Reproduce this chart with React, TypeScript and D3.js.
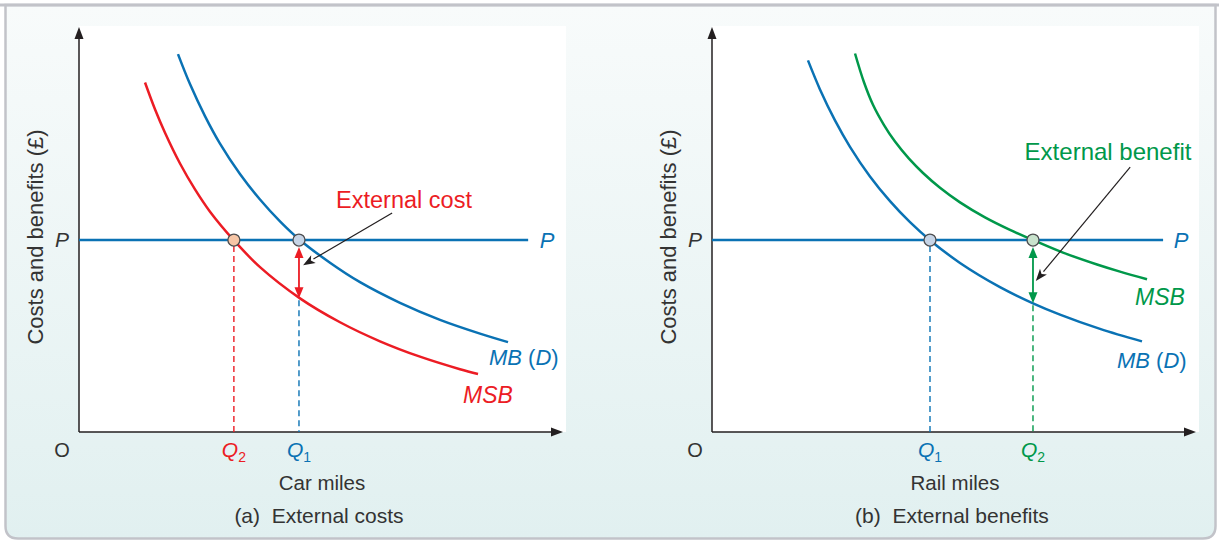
import React from "react";
import * as d3 from "d3";

// ---------- data (conceptual units: quantity 0-100, price 0-100) ----------
const priceP = 47.4;

// Panel (a) External costs — car miles
const carMB: [number, number][] = [
  [20.45, 93.3], [22.93, 85.9], [26.03, 78.0], [29.13, 71.2], [33.26, 63.7], [37.4, 57.4],
  [41.53, 52.0], [45.45, 47.6], [51.86, 41.8], [58.06, 37.0], [66.32, 31.9], [74.59, 27.7],
  [82.85, 24.3], [88.64, 22.2],
];
const carMSB: [number, number][] = [
  [13.64, 86.3], [15.7, 79.7], [17.77, 73.9], [20.87, 66.3], [23.97, 59.9], [27.07, 54.4],
  [32.02, 47.3], [37.4, 40.7], [45.66, 33.0], [53.93, 27.1], [62.19, 22.4], [70.45, 18.6],
  [78.72, 15.5], [82.44, 14.3],
];
const carQ1 = 45.45; // MB = P
const carQ2 = 32.0; // MSB = P
const carMSBatQ1 = 33.0;
const carPEnd = 92.8;
const carPointer: [number, number][] = [[64.7, 54.1], [46.3, 41.2]];

// Panel (b) External benefits — rail miles
const railMB: [number, number][] = [
  [19.83, 91.75], [22.31, 84.59], [25.41, 76.94], [28.51, 70.42], [32.64, 63.09], [36.78, 56.99],
  [40.91, 51.8], [45.04, 47.36], [51.24, 41.75], [59.5, 35.78], [66.32, 31.78], [71.9, 28.99],
  [80.17, 25.46], [88.84, 22.37],
];
const railMSB: [number, number][] = [
  [29.55, 93.46], [31.4, 86.35], [33.26, 80.79], [35.54, 75.78], [37.81, 71.7], [40.7, 67.48],
  [43.6, 63.95], [47.11, 60.3], [51.24, 56.69], [56.4, 52.99], [61.57, 49.9], [66.32, 47.41],
  [72.52, 44.3], [79.55, 41.36], [84.3, 39.6], [89.88, 37.73],
];
const railQ1 = 45.04; // MB = P
const railQ2 = 66.32; // MSB = P
const railMBatQ2 = 31.78;
const railPEnd = 93.2;
const railPointer: [number, number][] = [[86.4, 65.4], [66.9, 37.3]];

// ---------- style ----------
const BLUE = "#0a72b4";
const RED = "#ec1c24";
const GREEN = "#00984a";
const AXIS = "#231f20";
const TEXT = "#333333";
const FONT = "'Liberation Sans', Arial, sans-serif";

const W = 1219;
const H = 542;

const yScale = d3.scaleLinear().domain([0, 100]).range([432, 27]);

function makeLine(x: d3.ScaleLinear<number, number>) {
  return d3
    .line<[number, number]>()
    .x((d) => x(d[0]))
    .y((d) => yScale(d[1]))
    .curve(d3.curveCatmullRom.alpha(0.5));
}

function QLabel({ x, sub, color }: { x: number; sub: string; color: string }) {
  return (
    <text x={x} y={450} dy="0.35em" fill={color} fontFamily={FONT} fontSize={21} textAnchor="middle">
      <tspan fontStyle="italic">Q</tspan>
      <tspan fontSize={14} dy="5">{sub}</tspan>
    </text>
  );
}

function MBLabel({ x, y }: { x: number; y: number }) {
  return (
    <text x={x} y={y} dy="0.35em" fill={BLUE} fontFamily={FONT} fontSize={22}>
      <tspan fontStyle="italic">MB</tspan>
      <tspan> (</tspan>
      <tspan fontStyle="italic">D</tspan>
      <tspan>)</tspan>
    </text>
  );
}

function Axes({ x, caption, xTitle }: { x: d3.ScaleLinear<number, number>; caption: string; xTitle: string }) {
  const x0 = x(0);
  const x1 = x(100);
  const y0 = yScale(0);
  const y1 = yScale(100);
  return (
    <g>
      <rect x={x0} y={y1 - 1} width={x1 - x0 + 3} height={y0 - y1 + 1} fill="#ffffff" />
      <line x1={x0} y1={y0} x2={x1 - 8} y2={y0} stroke={AXIS} strokeWidth={1.5} />
      <line x1={x0} y1={y0} x2={x0} y2={y1 + 8} stroke={AXIS} strokeWidth={1.5} />
      <path d={`M${x1},${y0} L${x1 - 12},${y0 - 4.5} L${x1 - 12},${y0 + 4.5} Z`} fill={AXIS} />
      <path d={`M${x0},${y1} L${x0 - 4.5},${y1 + 12} L${x0 + 4.5},${y1 + 12} Z`} fill={AXIS} />
      <text x={x0 - 17} y={450} dy="0.35em" fontFamily={FONT} fontSize={20} fill={TEXT} textAnchor="middle">O</text>
      <text x={x0 - 17} y={yScale(priceP)} dy="0.35em" fontFamily={FONT} fontSize={21} fontStyle="italic" fill={TEXT} textAnchor="middle">P</text>
      <text
        transform={`translate(${x0 - 44},${237}) rotate(-90)`}
        dy="0.35em"
        fontFamily={FONT}
        fontSize={22}
        fill={TEXT}
        textAnchor="middle"
      >
        Costs and benefits (£)
      </text>
      <text x={x0 + 243} y={483} dy="0.35em" fontFamily={FONT} fontSize={20.5} fill={TEXT} textAnchor="middle">{xTitle}</text>
      <text x={x0 + 240} y={516} dy="0.35em" fontFamily={FONT} fontSize={21} fill={TEXT} textAnchor="middle" style={{ whiteSpace: "pre" }}>
        {caption}
      </text>
    </g>
  );
}

function Dot({ cx, cy, fill }: { cx: number; cy: number; fill: string }) {
  return <circle cx={cx} cy={cy} r={6} fill={fill} stroke="#4d4d4f" strokeWidth={1.3} />;
}

function DoubleArrow({ x, yTop, yBot, color }: { x: number; yTop: number; yBot: number; color: string }) {
  const hw = 4.5;
  const hl = 11;
  return (
    <g>
      <line x1={x} y1={yTop + hl - 1} x2={x} y2={yBot - hl + 1} stroke={color} strokeWidth={1.8} />
      <path d={`M${x},${yTop} L${x - hw},${yTop + hl} L${x + hw},${yTop + hl} Z`} fill={color} />
      <path d={`M${x},${yBot} L${x - hw},${yBot - hl} L${x + hw},${yBot - hl} Z`} fill={color} />
    </g>
  );
}

function Pointer({ x, pts }: { x: d3.ScaleLinear<number, number>; pts: [number, number][] }) {
  const sx = x(pts[0][0]);
  const sy = yScale(pts[0][1]);
  const ex = x(pts[1][0]);
  const ey = yScale(pts[1][1]);
  const ang = Math.atan2(ey - sy, ex - sx);
  const hl = 12;
  const hw = 4.5;
  const bx = ex - hl * Math.cos(ang);
  const by = ey - hl * Math.sin(ang);
  const px = -Math.sin(ang) * hw;
  const py = Math.cos(ang) * hw;
  return (
    <g>
      <line x1={sx} y1={sy} x2={bx} y2={by} stroke={AXIS} strokeWidth={1.2} />
      <path d={`M${ex},${ey} L${bx + px},${by + py} L${bx + 3 * Math.cos(ang)},${by + 3 * Math.sin(ang)} L${bx - px},${by - py} Z`} fill={AXIS} />
    </g>
  );
}

function PanelA() {
  const x = d3.scaleLinear().domain([0, 100]).range([79, 563]);
  const line = makeLine(x);
  const yP = yScale(priceP);
  return (
    <g>
      <Axes x={x} caption="(a)  External costs" xTitle="Car miles" />
      <line x1={x(0)} y1={yP} x2={x(carPEnd)} y2={yP} stroke={BLUE} strokeWidth={2.5} />
      <text x={x(carPEnd) + 19} y={yP} dy="0.35em" fill={BLUE} fontFamily={FONT} fontSize={22} fontStyle="italic" textAnchor="middle">P</text>
      <path d={line(carMB) || ""} fill="none" stroke={BLUE} strokeWidth={2.5} />
      <path d={line(carMSB) || ""} fill="none" stroke={RED} strokeWidth={2.5} />
      <line x1={x(carQ2)} y1={yP + 6} x2={x(carQ2)} y2={yScale(0)} stroke={RED} strokeWidth={1.4} strokeDasharray="6,4" />
      <line x1={x(carQ1)} y1={yScale(carMSBatQ1) + 2} x2={x(carQ1)} y2={yScale(0)} stroke={BLUE} strokeWidth={1.4} strokeDasharray="6,4" />
      <DoubleArrow x={x(carQ1)} yTop={yP + 7} yBot={yScale(carMSBatQ1)} color={RED} />
      <Dot cx={x(carQ2)} cy={yP} fill="#f7c6a6" />
      <Dot cx={x(carQ1)} cy={yP} fill="#c6d4e6" />
      <Pointer x={x} pts={carPointer} />
      <text x={404} y={200} dy="0.35em" fill={RED} fontFamily={FONT} fontSize={23.5} textAnchor="middle">External cost</text>
      <MBLabel x={489} y={357} />
      <text x={463} y={395} dy="0.35em" fill={RED} fontFamily={FONT} fontSize={23} fontStyle="italic">MSB</text>
      <QLabel x={x(carQ2)} sub="2" color={RED} />
      <QLabel x={x(carQ1)} sub="1" color={BLUE} />
    </g>
  );
}

function PanelB() {
  const x = d3.scaleLinear().domain([0, 100]).range([712, 1196]);
  const line = makeLine(x);
  const yP = yScale(priceP);
  return (
    <g>
      <Axes x={x} caption="(b)  External benefits" xTitle="Rail miles" />
      <line x1={x(0)} y1={yP} x2={x(railPEnd)} y2={yP} stroke={BLUE} strokeWidth={2.5} />
      <text x={x(railPEnd) + 18} y={yP} dy="0.35em" fill={BLUE} fontFamily={FONT} fontSize={22} fontStyle="italic" textAnchor="middle">P</text>
      <path d={line(railMB) || ""} fill="none" stroke={BLUE} strokeWidth={2.5} />
      <path d={line(railMSB) || ""} fill="none" stroke={GREEN} strokeWidth={2.5} />
      <line x1={x(railQ1)} y1={yP + 6} x2={x(railQ1)} y2={yScale(0)} stroke={BLUE} strokeWidth={1.4} strokeDasharray="6,4" />
      <line x1={x(railQ2)} y1={yScale(railMBatQ2) + 2} x2={x(railQ2)} y2={yScale(0)} stroke={GREEN} strokeWidth={1.4} strokeDasharray="6,4" />
      <DoubleArrow x={x(railQ2)} yTop={yP + 7} yBot={yScale(railMBatQ2)} color={GREEN} />
      <Dot cx={x(railQ1)} cy={yP} fill="#c6d4e6" />
      <Dot cx={x(railQ2)} cy={yP} fill="#c8e2cc" />
      <Pointer x={x} pts={railPointer} />
      <text x={1108} y={152} dy="0.35em" fill={GREEN} fontFamily={FONT} fontSize={24} textAnchor="middle">External benefit</text>
      <text x={1135} y={297} dy="0.35em" fill={GREEN} fontFamily={FONT} fontSize={23} fontStyle="italic">MSB</text>
      <MBLabel x={1117} y={360} />
      <QLabel x={x(railQ1)} sub="1" color={BLUE} />
      <QLabel x={x(railQ2)} sub="2" color={GREEN} />
    </g>
  );
}

export default function App() {
  return (
    <svg
      width={W}
      height={H}
      viewBox={`0 0 ${W} ${H}`}
      style={{ position: "absolute", left: 0, top: 0, display: "block" }}
    >
      <defs>
        <linearGradient id="bg" x1="0" y1="0" x2="0" y2="1">
          <stop offset="0" stopColor="#f8fbfb" />
          <stop offset="1" stopColor="#e1f0f0" />
        </linearGradient>
      </defs>
      <rect x={0} y={0} width={W} height={H} fill="#ffffff" />
      <path
        d={`M5.5,5 L5.5,${H - 16} Q5.5,${H - 3.5} 18,${H - 3.5} L${W - 16},${H - 3.5} Q${W - 3.5},${H - 3.5} ${W - 3.5},${H - 16} L${W - 3.5},5 Z`}
        fill="url(#bg)"
        stroke="#c2c3c9"
        strokeWidth={2.5}
      />
      <line x1={0} y1={5} x2={W} y2={5} stroke="#c2c3c9" strokeWidth={3} />
      <PanelA />
      <PanelB />
    </svg>
  );
}
